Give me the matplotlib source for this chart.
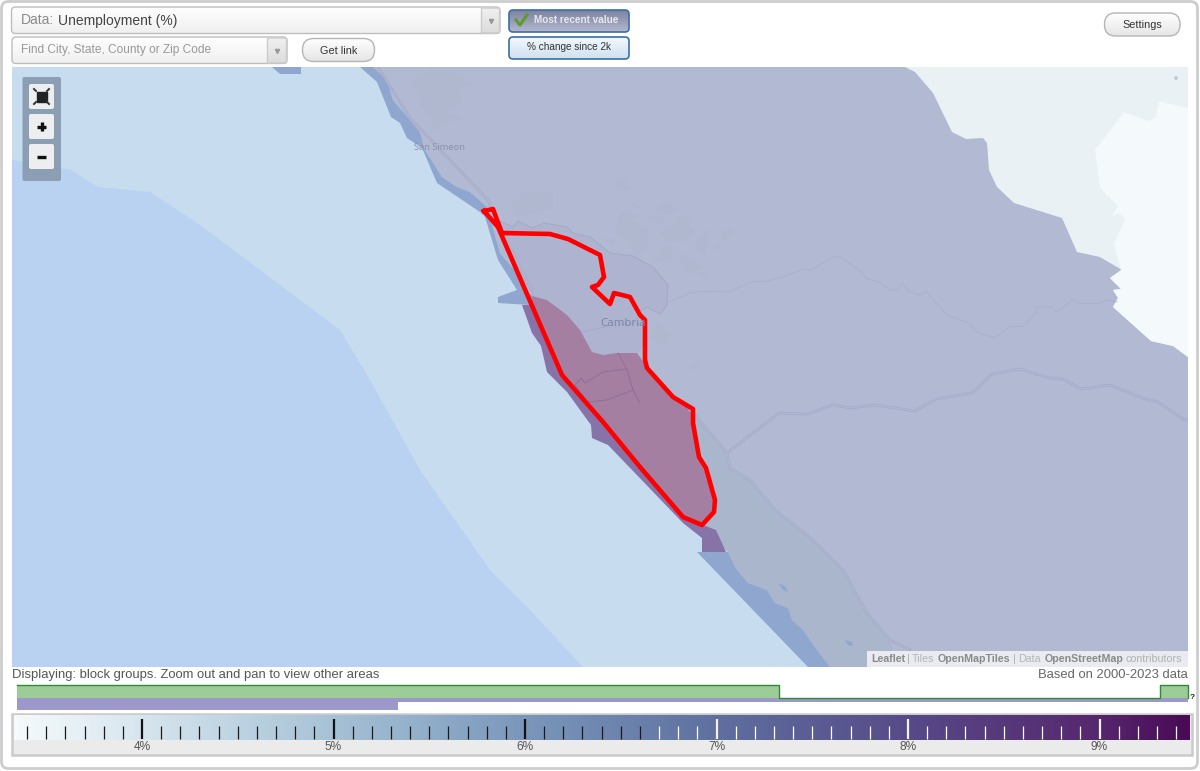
import numpy as np
import matplotlib
matplotlib.use("Agg")
import matplotlib.pyplot as plt
from matplotlib.patches import Polygon, Rectangle, FancyBboxPatch
from matplotlib.colors import LinearSegmentedColormap

plt.rcParams['font.family'] = ['Liberation Sans', 'DejaVu Sans']

# ---------- data ----------
scale_ticks = [4, 5, 6, 7, 8, 9]
scale_labels = ['4%', '5%', '6%', '7%', '8%', '9%']
minor_ticks = [round(3.4 + 0.1 * i, 1) for i in range(61)]
white_from = 6.65
scale_stops = [(3.33, '#f5fafc'), (4.0, '#d6e5ee'), (5.0, '#a6c1d6'), (6.0, '#7a97bb'),
               (7.0, '#5f709f'), (8.0, '#574a88'), (9.0, '#56276e'), (9.48, '#4a0a55')]

green_edges = [17, 779, 1160, 1188]
green_levels = [1, 0, 1]
purple_edges = [17, 398, 1188]
purple_levels = [1, 0.33]

deep_ocean = [(12, 160), (71, 170), (98, 187), (150, 192), (200, 225), (260, 270), (340, 330),
              (370, 380), (420, 470), (490, 570), (530, 610), (583, 667), (12, 667)]
land = [(373, 67), (387, 80), (393, 100), (410, 120), (420, 132), (425, 150), (442, 177),
        (457, 187), (470, 192), (487, 207), (500, 253), (523, 280), (528, 293), (532, 305),
        (560, 372), (603, 420), (683, 517), (703, 527), (728, 552), (735, 567), (748, 583),
        (767, 590), (775, 603), (788, 608), (792, 620), (803, 630), (817, 650), (830, 667),
        (1188, 667), (1188, 67)]
ne_light = [(905, 67), (915, 72), (933, 93), (952, 132), (966, 139), (983, 138), (987, 143),
            (989, 170), (997, 187), (1014, 203), (1062, 218), (1077, 252), (1100, 257),
            (1122, 270), (1110, 278), (1121, 289), (1113, 290), (1118, 298), (1113, 307),
            (1151, 341), (1173, 346), (1188, 357), (1188, 67)]
ne_lightest = [(1188, 108), (1159, 101), (1156, 117), (1149, 121), (1124, 112), (1095, 150),
               (1100, 188), (1118, 206), (1112, 216), (1119, 213), (1125, 219), (1114, 244),
               (1121, 270), (1110, 278), (1121, 289), (1113, 290), (1118, 298), (1113, 307),
               (1151, 341), (1173, 346), (1188, 357)]
coast_band_n = [(360, 67), (377, 82), (391, 117), (400, 123), (407, 138), (422, 148), (437, 183),
                (480, 212), (485, 217), (498, 260), (517, 290), (498, 297), (498, 303), (530, 305),
                (540, 300), (528, 293), (523, 280), (500, 253), (487, 207), (470, 192), (457, 187),
                (442, 177), (425, 150), (420, 132), (410, 120), (393, 100), (387, 80), (373, 67)]
tab_top = [(272, 67), (280, 74), (301, 74), (301, 67)]
coast_band_s = [(697, 552), (808, 667), (830, 667), (817, 650), (803, 630), (792, 620), (788, 608),
                (775, 603), (767, 590), (748, 583), (735, 567), (728, 552)]
purple_offshore = [(522, 305), (532, 333), (541, 346), (547, 372), (567, 392), (591, 425),
                   (592, 438), (608, 445), (683, 523), (702, 538), (702, 552), (726, 552),
                   (716, 530), (703, 525), (683, 517), (560, 372), (532, 305)]
mauve = [(532, 296), (547, 300), (567, 315), (580, 330), (592, 352), (603, 355), (617, 353),
         (637, 353), (647, 367), (673, 397), (693, 410), (692, 423), (700, 457), (707, 470),
         (716, 502), (712, 513), (703, 525), (683, 517), (640, 467), (603, 422), (567, 380), (560, 372),
         (532, 305)]
coastal_strip = [(693, 410), (727, 453), (730, 468), (750, 480), (775, 510), (813, 540), (843, 570),
                 (867, 613), (890, 640), (897, 667), (830, 667), (817, 650), (803, 630), (792, 620),
                 (788, 608), (775, 603), (767, 590), (748, 583), (735, 567), (728, 552), (703, 527),
                 (716, 502), (707, 470), (700, 457), (692, 423)]
lakes = [[(778, 583), (785, 586), (788, 592), (783, 590)],
         [(845, 640), (852, 642), (853, 646), (848, 645)]]
inland_patch = [(497, 220), (513, 227), (518, 221), (532, 228), (544, 223), (567, 227), (573, 233),
                (590, 237), (610, 253), (633, 256), (653, 267), (668, 285), (667, 305), (660, 314),
                (647, 307), (638, 312), (645, 345), (637, 353), (603, 355), (592, 352), (580, 330),
                (567, 315), (547, 300), (532, 296), (523, 280), (505, 250)]
veg_patches = [
    [(408, 83), (433, 70), (457, 73), (475, 85), (460, 88), (462, 103), (443, 112), (463, 117),
     (450, 123), (430, 133), (433, 117), (420, 105), (418, 90)],
    [(510, 207), (523, 193), (553, 192), (553, 210), (530, 213), (517, 217)],
    [(612, 182), (625, 178), (630, 190), (620, 188)],
    [(627, 199), (643, 208), (635, 208)],
    [(620, 212), (643, 215), (633, 220), (648, 228), (648, 247), (637, 257), (627, 240), (615, 232)],
    [(645, 215), (660, 215), (668, 225), (653, 222)],
    [(655, 212), (668, 200), (678, 210), (670, 215)],
    [(678, 217), (688, 215), (690, 227), (695, 230), (683, 243), (670, 243), (660, 233), (673, 227)],
    [(662, 247), (673, 247), (670, 260), (653, 263)],
    [(697, 240), (710, 228), (705, 257), (695, 250)],
    [(680, 253), (693, 260), (705, 267), (690, 275), (683, 267)],
    [(720, 228), (735, 232), (723, 243)],
    [(602, 238), (615, 238), (613, 247)],
    [(712, 250), (718, 242), (720, 248)],
    [(698, 272), (708, 272), (705, 278)],
    [(658, 322), (670, 335), (665, 347), (650, 338)],
    [(693, 362), (700, 365), (695, 372), (690, 372)],
]
road_main = [(727, 453), (779, 413), (808, 414), (833, 405), (851, 408), (874, 405), (915, 411),
             (936, 399), (972, 393), (992, 374), (1020, 369), (1049, 378), (1063, 379), (1081, 389),
             (1110, 385), (1142, 398), (1158, 402), (1183, 419), (1188, 420)]
road_coast_n = [(378, 67), (410, 118), (488, 200), (507, 243), (532, 290)]
road_coast_s = [(690, 410), (727, 453), (730, 468), (750, 480), (775, 510), (813, 540), (843, 570),
                (867, 613), (890, 640), (910, 650)]
border_east = [(669, 302), (690, 293), (704, 291), (729, 292), (751, 282), (767, 281), (786, 276),
               (804, 269), (811, 270), (835, 256), (842, 258), (858, 269), (867, 279), (879, 282),
               (890, 290), (897, 290), (902, 283), (908, 291), (919, 295), (926, 291), (931, 297),
               (947, 315), (969, 323), (977, 332), (995, 338), (1009, 327), (1024, 326), (1036, 313),
               (1036, 307), (1052, 307), (1056, 312), (1074, 299), (1079, 303), (1097, 304),
               (1108, 300), (1117, 302)]
border_inland = [(497, 220), (513, 227), (518, 221), (532, 228), (544, 223), (567, 227), (573, 233),
                 (590, 237), (610, 253), (633, 256), (653, 267), (668, 285), (667, 305), (660, 314),
                 (647, 307), (638, 312)]
road_cambria = [(582, 332), (605, 327), (635, 323), (645, 325)]
bg_line1 = [(618, 353), (627, 370), (633, 390), (640, 403)]
bg_line2 = [(575, 385), (581, 378), (585, 383), (603, 372), (627, 369)]
bg_line3 = [(633, 390), (607, 400), (588, 402), (575, 385)]
red_outline = [(484, 211), (493, 209), (502, 233), (550, 234), (568, 239), (600, 255), (604, 277),
               (598, 285), (592, 287), (610, 304), (614, 293), (630, 297), (640, 315), (645, 320),
               (645, 360), (647, 368), (673, 397), (693, 409), (693, 423), (699, 457), (706, 468),
               (715, 500), (714, 512), (702, 525), (683, 517), (640, 467), (603, 422), (562, 375),
               (498, 227), (484, 211)]

# ---------- canvas ----------
fig = plt.figure(figsize=(12, 7.71), dpi=100, facecolor='white')
ax = fig.add_axes([0, 0, 1, 1])
ax.set_xlim(0, 1200)
ax.set_ylim(771, 0)
ax.axis('off')


def grad_box(x0, y0, x1, y1, top, bottom, edge, r=4, lw=1.0, z=5):
    cm = LinearSegmentedColormap.from_list('g', [top, bottom])
    im = ax.imshow(np.linspace(0, 1, 64).reshape(-1, 1), extent=(x0, x1, y1, y0), cmap=cm,
                   aspect='auto', zorder=z)
    box = FancyBboxPatch((x0, y0), x1 - x0, y1 - y0, boxstyle=f'round,pad=0,rounding_size={r}',
                         fc='none', ec=edge, lw=lw, zorder=z + 0.1)
    ax.add_patch(box)
    im.set_clip_path(box)
    return box


# outer frame
ax.add_patch(FancyBboxPatch((1.5, 1.5), 1196, 767, boxstyle='round,pad=0,rounding_size=7',
                            fc='white', ec='#cdcdcd', lw=2.0, zorder=0))

# map
map_clip = Rectangle((12, 67), 1176, 600, transform=ax.transData)
ax.add_patch(Rectangle((12, 67), 1176, 600, fc='#c7dcee', ec='none', zorder=1))


def poly(pts, color, z, alpha=None):
    p = Polygon(pts, closed=True, fc=color, ec='none', alpha=alpha, zorder=z)
    ax.add_patch(p)
    p.set_clip_path(map_clip)


def line(pts, color, lw, z, alpha=1.0):
    xs, ys = zip(*pts)
    l, = ax.plot(xs, ys, color=color, lw=lw, alpha=alpha, zorder=z, solid_joinstyle='round')
    l.set_clip_path(map_clip)


poly(deep_ocean, '#b9d2f1', 1.1)
poly(land, '#b2b9d3', 1.2)
poly(ne_light, '#e9f1f4', 1.3)
poly(ne_lightest, '#f4f9fb', 1.4)
poly(inland_patch, '#aeb4cf', 1.5)
for v in veg_patches:
    poly(v, '#afb8cf', 1.6)
poly(coastal_strip, '#aab6cb', 1.7)
poly(coast_band_n, '#8fa7cf', 1.8)
poly(tab_top, '#8fa7cf', 1.8)
poly(coast_band_s, '#8fa7cf', 1.8)
for lk in lakes:
    poly(lk, '#8fa7cf', 1.8)
poly(purple_offshore, '#8873a8', 1.9)
poly(mauve, '#a47fa2', 2.0)

for r in (road_main, road_coast_n, road_coast_s):
    line(r, '#a4abc8', 1.9, 2.1)
    line(r, '#b4bbd5', 0.6, 2.2)
line(border_east, '#a8afcb', 0.55, 2.1)
line(border_inland, '#a0a7c5', 0.6, 2.1)
line(road_cambria, '#a5acc9', 0.8, 2.1)
for l_ in (bg_line1, bg_line2, bg_line3):
    line(l_, '#8a6a97', 0.55, 2.3)

line(red_outline, '#ff0000', 3.3, 3)

ax.text(440, 147.5, 'San Simeon', fontsize=6.7, color='#8b92ac', ha='center', va='center',
        family=['Noto Sans', 'DejaVu Sans'], zorder=3)
ax.text(623.5, 324, 'Cambria', fontsize=8.2, color='#7c86a8', ha='center', va='center',
        family=['Noto Sans', 'DejaVu Sans'], zorder=3)
ax.add_patch(plt.Circle((1176, 78), 1.8, fc='#c0c5c8', ec='none', zorder=3))

# attribution
ax.add_patch(Rectangle((867, 651), 321, 16, fc='#e9ebf1', ec='none', zorder=4))
attr_parts = [('Leaflet', 871, '#8a8a8a', 'bold'), ('|', 907, '#b0b0b0', 'normal'),
              ('Tiles', 912, '#b5b5b5', 'normal'), ('OpenMapTiles', 938, '#8a8a8a', 'bold'),
              ('|', 1013, '#b0b0b0', 'normal'), ('Data', 1018, '#b5b5b5', 'normal'),
              ('OpenStreetMap', 1045, '#8a8a8a', 'bold'), ('contributors', 1126, '#b0b0b0', 'normal')]
for t, x, c, w in attr_parts:
    ax.text(x, 659.5, t, fontsize=7.7, color=c, weight='normal' if w == 'normal' else 'semibold',
            ha='left', va='center', zorder=5)

# top controls
grad_box(11.5, 7, 500, 33.5, '#ffffff', '#f0f0f0', '#bdbdbd', r=4)
grad_box(481.5, 8, 499.5, 33, '#f0f0f0', '#dcdcdc', '#cccccc', r=1)
ax.text(21, 20.5, 'Data:', fontsize=10, color='#8a8a8a', va='center', zorder=7)
ax.text(58, 20.5, 'Unemployment (%)', fontsize=10, color='#444444', va='center', zorder=7)
ax.plot([490.5], [21], marker='v', ms=3, color='#999999', zorder=7)

grad_box(12, 37, 287, 63.5, '#ffffff', '#f0f0f0', '#bdbdbd', r=4)
grad_box(267.5, 38, 286.5, 63, '#f0f0f0', '#dcdcdc', '#cccccc', r=1)
ax.text(21, 50, 'Find City, State, County or Zip Code', fontsize=8.6, color='#999999', va='center', zorder=7)
ax.plot([276.5], [51], marker='v', ms=3, color='#999999', zorder=7)

grad_box(302.5, 38.5, 374.5, 61.5, '#ffffff', '#e6e6e6', '#b5b5b5', r=11)
ax.text(338.5, 50.5, 'Get link', fontsize=7.8, color='#333333', ha='center', va='center', zorder=7)

grad_box(509, 10, 629, 32, '#7d829f', '#b3b7cf', '#3a6ea5', r=4, lw=1.2)
ax.plot([516, 520, 527], [20, 25, 15], color='#5d9c2a', lw=2.2, zorder=7)
ax.text(534, 20, 'Most recent value', fontsize=7.2, color='#e8e8f0', weight='bold', va='center', zorder=7)

grad_box(509, 37, 629, 59, '#f3f8fc', '#cfe1f1', '#3a6ea5', r=4, lw=1.2)
ax.text(569, 47, '% change since 2k', fontsize=7.2, color='#333333', ha='center', va='center', zorder=7)

grad_box(1104.5, 13, 1180, 36, '#ffffff', '#e6e6e6', '#b5b5b5', r=11)
ax.text(1142, 24.5, 'Settings', fontsize=7.8, color='#333333', ha='center', va='center', zorder=7)

# map zoom controls
ax.add_patch(FancyBboxPatch((22.5, 77), 38.5, 104, boxstyle='round,pad=0,rounding_size=2',
                            fc='#8b9eb4', ec='none', zorder=5))
for y0 in (84, 114, 144):
    ax.add_patch(FancyBboxPatch((29, y0), 25, 25, boxstyle='round,pad=0,rounding_size=2',
                                fc='#eceef0', ec='none', zorder=6))
ax.plot([41.5], [96.5], marker='s', ms=6.5, color='#222222', zorder=7)
for sx, sy in ((-1, -1), (1, -1), (-1, 1), (1, 1)):
    ax.plot([41.5 + sx * 5.5, 41.5 + sx * 7.5], [96.5 + sy * 5.5, 96.5 + sy * 7.5],
            color='#333333', lw=1.4, zorder=7)
ax.plot([37, 46], [126.5, 126.5], color='#111111', lw=2.4, zorder=7, solid_capstyle='butt')
ax.plot([41.5, 41.5], [122, 131], color='#111111', lw=2.4, zorder=7, solid_capstyle='butt')
ax.plot([37, 46], [156.5, 156.5], color='#111111', lw=2.4, zorder=7, solid_capstyle='butt')

# footer text
ax.text(12, 675, 'Displaying: block groups. Zoom out and pan to view other areas',
        fontsize=9.4, color='#555555', va='center')
ax.text(1188, 675, 'Based on 2000-2023 data', fontsize=9.4, color='#666666', ha='right', va='center')
ax.text(1192, 697.5, '?', fontsize=6, color='#222222', weight='bold', ha='center', va='center')

# availability strips
ax_p = fig.add_axes([17 / 1200, 1 - 710 / 771, (1188 - 17) / 1200, 12 / 771], zorder=1)
ax_p.set_xlim(17, 1188)
ax_p.set_ylim(0, 1)
ax_p.axis('off')
px_ = np.repeat(purple_edges, 2)[1:-1]
py_ = np.repeat(purple_levels, 2)
ax_p.fill_between(px_, 1 - py_, 1, color='#9c99ca', lw=0)

ax_g = fig.add_axes([17 / 1200, 1 - 698.3 / 771, (1188 - 17) / 1200, 13.5 / 771], zorder=2)
ax_g.patch.set_alpha(0)
ax_g.set_xlim(17, 1188)
ax_g.set_ylim(0, 1)
ax_g.axis('off')
gx = np.repeat(green_edges, 2)[1:-1]
gy = np.repeat(green_levels, 2)
ax_g.fill_between(gx, 0, gy, color='#9ccd99', lw=0)
ax_g.plot(np.r_[gx, gx[-1]], np.r_[gy * 0.96 + 0.04, 0.04], color='#2f8a35', lw=1.0, clip_on=False)

# colour scale
ax.add_patch(Rectangle((12, 714), 1180, 40.5, fc='#ebebeb', ec='#cacaca', lw=1.8, zorder=1))
x_left, x_right = 14, 1190
per_px = 1 / 191.5
ax_c = fig.add_axes([x_left / 1200, 1 - 740 / 771, (x_right - x_left) / 1200, 25 / 771])
v0 = 4 + (x_left - 142) * per_px
v1 = 4 + (x_right - 142) * per_px
stops = [((v - v0) / (v1 - v0), c) for v, c in scale_stops]
stops[0] = (0.0, stops[0][1])
stops[-1] = (1.0, stops[-1][1])
cmap = LinearSegmentedColormap.from_list('scale', stops)
ax_c.imshow(np.linspace(0, 1, 512).reshape(1, -1), extent=(v0, v1, 0, 25), cmap=cmap, aspect='auto')
ax_c.set_xlim(v0, v1)
ax_c.set_ylim(0, 25)
ax_c.axis('off')
for v in minor_ticks:
    if round(v * 10) % 10 == 0:
        continue
    ax_c.plot([v, v], [1, 14], color='white' if v > white_from else '#1a1a1a', lw=0.9,
              solid_capstyle='butt')
for v, lab in zip(scale_ticks, scale_labels):
    ax_c.plot([v, v], [1, 21], color='#f2f2f2' if v > white_from else '#111111', lw=1.6,
              solid_capstyle='butt')
    xpix = 142 + (v - 4) * 191.5
    ax.text(xpix, 747, lab, fontsize=8.6, color='#555555', ha='center', va='center', zorder=2)

ax.set_xlim(0, 1200)
ax.set_ylim(771, 0)
fig.savefig('out.png', dpi=100, facecolor='white')
